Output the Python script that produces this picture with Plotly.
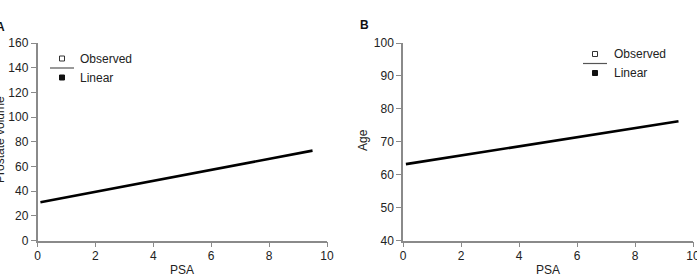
import plotly.graph_objects as go

W, H = 697, 278

# Data
psa = [0.1, 9.5]
prostate_volume_fit = [31.0, 72.8]
age_fit = [63.2, 76.2]

xticks = [0, 2, 4, 6, 8, 10]
yticks_a = [0, 20, 40, 60, 80, 100, 120, 140, 160]
yticks_b = [40, 50, 60, 70, 80, 90, 100]

def px(x):
    return x / W

def py(y):
    return 1 - y / H

FAM = "Liberation Sans, Arial, sans-serif"
font = dict(family=FAM, size=12, color="#222")
tfont = dict(family=FAM, size=12, color="#222")
axcol = "#8a8a8a"

fig = go.Figure()
fig.add_trace(go.Scatter(x=psa, y=prostate_volume_fit, mode="lines",
                         line=dict(color="black", width=2.6), xaxis="x", yaxis="y",
                         showlegend=False, hoverinfo="skip"))
fig.add_trace(go.Scatter(x=psa, y=age_fit, mode="lines",
                         line=dict(color="black", width=2.6), xaxis="x2", yaxis="y2",
                         showlegend=False, hoverinfo="skip"))

def xaxis(domain, anchor):
    return dict(domain=domain, anchor=anchor, range=[0, 10], tickvals=xticks,
                showgrid=False, zeroline=False, showline=True, linecolor=axcol, linewidth=1.5,
                ticks="outside", ticklen=5, tickcolor=axcol, tickwidth=1.2, tickfont=font,
                fixedrange=True, automargin=False, ticklabeloverflow="allow",
                ticklabelstandoff=-2)

def yaxis(domain, anchor, rng, vals):
    return dict(domain=domain, anchor=anchor, range=rng, tickvals=vals,
                showgrid=False, zeroline=False, showline=True, linecolor=axcol, linewidth=1.5,
                ticks="outside", ticklen=5, tickcolor=axcol, tickwidth=1.2, tickfont=font,
                fixedrange=True, automargin=False, ticklabeloverflow="allow")

ydom = [py(240.5), py(43)]
fig.update_layout(
    width=W, height=H, margin=dict(l=0, r=0, t=0, b=0, autoexpand=False),
    paper_bgcolor="white", plot_bgcolor="white", showlegend=False,
    font=font,
    xaxis=xaxis([px(37.5), px(327)], "y"),
    yaxis=yaxis(ydom, "x", [0, 160], yticks_a),
    xaxis2=xaxis([px(403), px(693)], "y2"),
    yaxis2=yaxis(ydom, "x2", [40, 100], yticks_b),
)

ann = []

def text(x, y, t, f, xanchor="center", angle=0):
    ann.append(dict(x=px(x), y=py(y), xref="paper", yref="paper", text=t,
                    showarrow=False, xanchor=xanchor, yanchor="middle",
                    textangle=angle, font=f))

# axis titles
text(182, 270, "PSA", tfont)
text(548, 270, "PSA", tfont)
text(0, 140, "Prostate volume", tfont, angle=-90)
text(363, 140, "Age", tfont, angle=-90)
# panel labels
bfont = dict(family=FAM, size=12, color="#111")
text(-6, 27, "<b>A</b>", bfont, xanchor="left")
text(358, 25, "<b>B</b>", bfont, xanchor="left")

shapes = []

def legend(cx, ytop, textx):
    s = 2.5
    shapes.append(dict(type="rect", xref="paper", yref="paper",
                       x0=px(cx - s), x1=px(cx + s), y0=py(ytop - s), y1=py(ytop + s),
                       line=dict(color="#333", width=1), fillcolor="white"))
    text(textx, ytop, "Observed", font, xanchor="left")
    ymid = ytop + 9.5
    shapes.append(dict(type="line", xref="paper", yref="paper",
                       x0=px(cx - 12), x1=px(cx + 12), y0=py(ymid), y1=py(ymid),
                       line=dict(color="#555", width=1.2)))
    y2 = ytop + 19
    shapes.append(dict(type="rect", xref="paper", yref="paper",
                       x0=px(cx - s), x1=px(cx + s), y0=py(y2 - s), y1=py(y2 + s),
                       line=dict(color="#111", width=1), fillcolor="#111"))
    text(textx, y2, "Linear", font, xanchor="left")

legend(62, 58.5, 78)
legend(595, 54, 612)

fig.update_layout(annotations=ann, shapes=shapes)
fig.write_html("out.html")
